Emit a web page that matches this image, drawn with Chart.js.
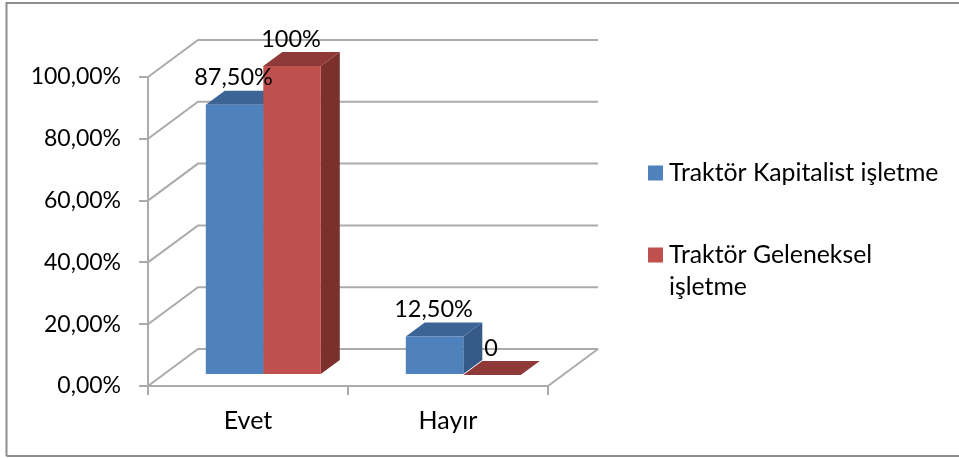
<!DOCTYPE html>
<html>
<head>
<meta charset="utf-8">
<title>Traktör</title>
<script src="https://cdn.jsdelivr.net/npm/chart.js@4"></script>
<style>
  html, body { margin: 0; padding: 0; background: #fff; }
  canvas { display: block; }
</style>
</head>
<body>
<canvas id="chart" width="959" height="458"></canvas>
<script>
const categories = ['Evet', 'Hayır'];
const kapitalist = [87.5, 12.5];
const geleneksel = [100, 0];
const kapitalistLabels = ['87,50%', '12,50%'];
const geleneskelLabels = ['100%', '0'];
const yTicks = [0, 20, 40, 60, 80, 100];
const legendLines = [['Traktör Kapitalist işletme'], ['Traktör Geleneksel', 'işletme']];

const GREY = '#ababab';
const wall = { x: 50, y: -37 };     // depth of the back wall
const shift = { x: 15.3, y: -11 };  // bars stand a little inside the floor
const depth = { x: 19, y: -14 };    // depth of one bar

const faces = [
  { front: '#4f81bd', top: '#3c6494', side: '#355a88' },
  { front: '#c0504d', top: '#8f3a38', side: '#7c302e' }
];

function poly(ctx, pts, color) {
  ctx.fillStyle = color;
  ctx.beginPath();
  pts.forEach((p, i) => i ? ctx.lineTo(p[0], p[1]) : ctx.moveTo(p[0], p[1]));
  ctx.closePath();
  ctx.fill();
}

const box3d = {
  id: 'box3d',
  beforeDatasetsDraw(chart) {
    const { ctx, chartArea: a, scales: { y } } = chart;

    // frame around the picture
    ctx.save();
    ctx.strokeStyle = '#8e8e8e';
    ctx.lineWidth = 2;
    ctx.beginPath();
    ctx.moveTo(6.5, 456);
    ctx.lineTo(6.5, 3);
    ctx.lineTo(959, 3);
    ctx.moveTo(6.5, 456);
    ctx.lineTo(959, 456);
    ctx.stroke();

    // side wall and back wall lines
    ctx.strokeStyle = GREY;
    ctx.lineWidth = 2;
    ctx.beginPath();
    yTicks.forEach(v => {
      const py = y.getPixelForValue(v);
      ctx.moveTo(a.left, py);
      ctx.lineTo(a.left + wall.x, py + wall.y);
      ctx.lineTo(a.right + wall.x, py + wall.y);
    });
    const y0 = y.getPixelForValue(0);
    ctx.moveTo(a.right, y0);
    ctx.lineTo(a.right + wall.x, y0 + wall.y);
    ctx.stroke();

    // tops and sides of the bars, fronts come from the library on top
    ctx.translate(shift.x, shift.y);
    chart.data.datasets.forEach((ds, i) => {
      chart.getDatasetMeta(i).data.forEach(bar => {
        const l = bar.x - bar.width / 2, r = bar.x + bar.width / 2;
        const t = bar.y, b = bar.base;
        poly(ctx, [[l, t], [r, t], [r + depth.x, t + depth.y], [l + depth.x, t + depth.y]], faces[i].top);
        poly(ctx, [[r, t], [r + depth.x, t + depth.y], [r + depth.x, b + depth.y], [r, b]], faces[i].side);
      });
    });
    ctx.restore();

    ctx.save();
    ctx.translate(shift.x, shift.y);
  },
  afterDatasetsDraw(chart) {
    const { ctx } = chart;
    ctx.restore();

    // value labels
    ctx.save();
    ctx.fillStyle = '#000';
    ctx.font = '23.5px Lato';
    ctx.textAlign = 'center';
    ctx.textBaseline = 'middle';
    [kapitalistLabels, geleneskelLabels].forEach((labels, i) => {
      chart.getDatasetMeta(i).data.forEach((bar, j) => {
        ctx.fillText(labels[j], bar.x + shift.x - 1, bar.y + shift.y - 27);
      });
    });

    // legend
    const rows = [173, 255];
    ctx.font = '24.8px Lato';
    ctx.textAlign = 'left';
    chart.data.datasets.forEach((ds, i) => {
      ctx.fillStyle = faces[i].front;
      ctx.fillRect(648, rows[i] - 7.5, 15, 15);
      ctx.fillStyle = '#000';
      legendLines[i].forEach((line, k) => ctx.fillText(line, 669, rows[i] + k * 32));
    });
    ctx.restore();
  }
};

new Chart(document.getElementById('chart'), {
  type: 'bar',
  data: {
    labels: categories,
    datasets: [
      { label: 'Traktör Kapitalist işletme', data: kapitalist, backgroundColor: faces[0].front, borderWidth: 0 },
      { label: 'Traktör Geleneksel işletme', data: geleneksel, backgroundColor: faces[1].front, borderWidth: 0 }
    ]
  },
  options: {
    responsive: false,
    animation: false,
    layout: { padding: { top: 77, right: 411, left: 0, bottom: 0 } },
    datasets: { bar: { categoryPercentage: 0.575, barPercentage: 1 } },
    plugins: { legend: { display: false }, tooltip: { enabled: false }, title: { display: false } },
    scales: {
      x: {
        afterFit: s => { s.height = 72; },
        grid: { drawOnChartArea: false, color: GREY, lineWidth: 2, tickLength: 9 },
        border: { color: GREY, width: 2 },
        ticks: { color: '#000', font: { family: 'Lato', size: 25 }, padding: 11, maxRotation: 0 }
      },
      y: {
        min: 0,
        max: 100,
        afterFit: s => { s.width = 148; },
        afterBuildTicks: s => { s.ticks = yTicks.map(v => ({ value: v })); },
        grid: { drawOnChartArea: false, color: GREY, lineWidth: 2, tickLength: 9 },
        border: { color: GREY, width: 2 },
        ticks: {
          color: '#000',
          font: { family: 'Lato', size: 23 },
          padding: 18,
          callback: v => v.toFixed(2).replace('.', ',') + '%'
        }
      }
    }
  },
  plugins: [box3d]
});
</script>
</body>
</html>
